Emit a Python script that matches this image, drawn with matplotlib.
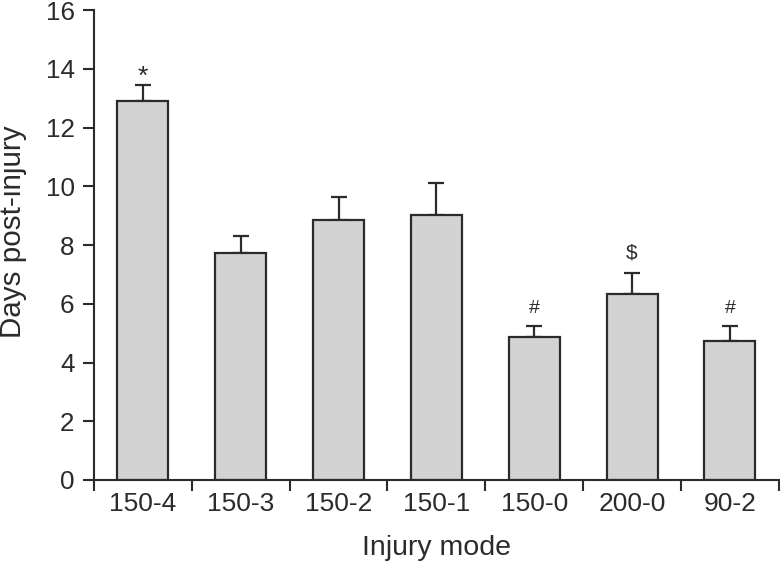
import matplotlib.pyplot as plt
import numpy as np

plt.rcParams['font.family'] = ['Liberation Sans', 'DejaVu Sans']
plt.rcParams['font.size'] = 18.7

modes = ["150-4", "150-3", "150-2", "150-1", "150-0", "200-0", "90-2"]
days = [12.9, 7.72, 8.86, 9.02, 4.87, 6.32, 4.75]
err = [0.56, 0.6, 0.79, 1.11, 0.37, 0.72, 0.5]
marks = ["*", "", "", "", "#", "$", "#"]

dark = '#2b2b2b'
x = np.arange(len(modes))

fig = plt.figure(figsize=(7.8, 5.66), dpi=100)
ax = fig.add_axes([0.1205, 0.152, 0.878, 0.830])

ax.bar(x, days, width=0.52, color='#d3d3d3', edgecolor=dark, linewidth=1.6, zorder=2)
ax.errorbar(x, days, yerr=[np.zeros(len(err)), err], fmt='none', ecolor=dark,
            elinewidth=1.6, capsize=5.5, capthick=1.6, zorder=1)

# symbol size / gap above the error cap
sym_style = {"*": (19, 0.02), "#": (14, 0.43), "$": (15, 0.5)}
for i in range(len(modes)):
    if marks[i]:
        fs, off = sym_style[marks[i]]
        ax.text(x[i], days[i] + err[i] + off, marks[i], ha='center', va='baseline',
                fontsize=fs, color=dark)

ax.set_xlim(-0.5, 6.5)
ax.set_ylim(0, 16)
ax.set_yticks(range(0, 17, 2))
ax.set_xticks(np.arange(-0.5, 7, 1))
ax.set_xticklabels([])
ax.set_xticks(x, minor=True)
ax.set_xticklabels(modes, minor=True, fontsize=19)
ax.tick_params(axis='x', which='minor', length=0, pad=9, colors=dark)
ax.tick_params(axis='both', which='major', direction='out', length=8, width=1.5,
               colors=dark, pad=6)

for s in ['top', 'right']:
    ax.spines[s].set_visible(False)
for s in ['left', 'bottom']:
    ax.spines[s].set_linewidth(1.5)
    ax.spines[s].set_color(dark)

ax.set_xlabel('Injury mode', color=dark, fontsize=20.5, labelpad=13)
ax.set_ylabel('Days post-injury', color=dark, fontsize=21.3, va='center')
ax.yaxis.set_label_coords(-0.118, 0.528)

plt.savefig("out.png", dpi=100)
